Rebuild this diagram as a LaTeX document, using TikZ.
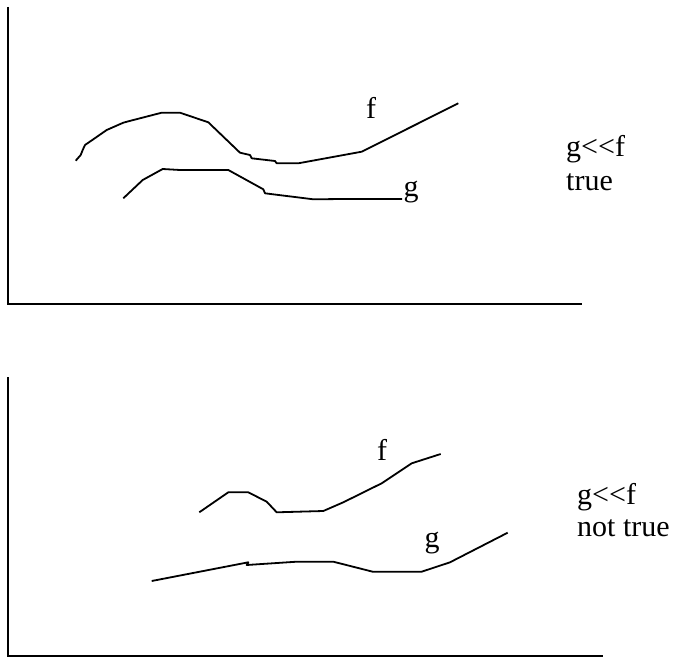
\documentclass[tikz,border=0pt]{standalone}
\usepackage{fontspec}
\setmainfont{Liberation Serif}
\begin{document}
\begin{tikzpicture}[x=1pt, y=-1pt,
  axis/.style={line width=2.2pt},
  curve/.style={line width=1.8pt, line join=round},
  lab/.style={font=\fontsize{30}{34}\selectfont, inner sep=0pt}]
\useasboundingbox (0,0) rectangle (677,658);
% upper panel
\draw[axis] (8,7) -- (8,304) -- (582,304);
\draw[curve] (75.7,160.7) -- (80.7,155) -- (82.7,150) -- (85,145) -- (93.3,139.3) -- (106.7,130) -- (123.3,122.7) -- (130.7,120.7) -- (161.7,112.7) -- (180,112.7) -- (208.3,122.3) -- (240,152.7) -- (250,155) -- (251.7,158.3) -- (275,161) -- (276.7,163.3) -- (298.3,163.3) -- (361.7,151.7) -- (458.3,103.3);
\draw[curve] (123.3,198.3) -- (142.7,180) -- (162.7,169) -- (180,170) -- (228.3,170) -- (263.3,189.3) -- (265,193.3) -- (313.3,199.3) -- (343.3,199) -- (402,199);
\node[lab] (fUp) at (371,108) {f};
\node[lab] (gUp) at (411,192) {g};
\node[lab, anchor=base west] (relUp) at (566,157) {g<\kern0pt<f};
\node[lab, anchor=base west] (valUp) at (566,190) {true};
% lower panel
\draw[axis] (8,377) -- (8,656) -- (603,656);
\draw[curve] (199.3,512.3) -- (228.3,492.3) -- (248.3,492.3) -- (266.7,501.7) -- (276.7,512.3) -- (323.3,511) -- (343.3,502.3) -- (381.7,483.3) -- (411.7,463.3) -- (440.7,454);
\draw[curve] (151.7,581) -- (248.3,562.3) -- (246.7,565) -- (296.7,561.7) -- (333.3,561.7) -- (372.7,571.7) -- (421.7,571.7) -- (450,562.3) -- (507.7,532.7);
\node[lab] (fLow) at (382,450) {f};
\node[lab] (gLow) at (432,543) {g};
\node[lab, anchor=base west] (relLow) at (577,504) {g<\kern0pt<f};
\node[lab, anchor=base west] (valLow) at (577,536) {not true};
\end{tikzpicture}
\end{document}
